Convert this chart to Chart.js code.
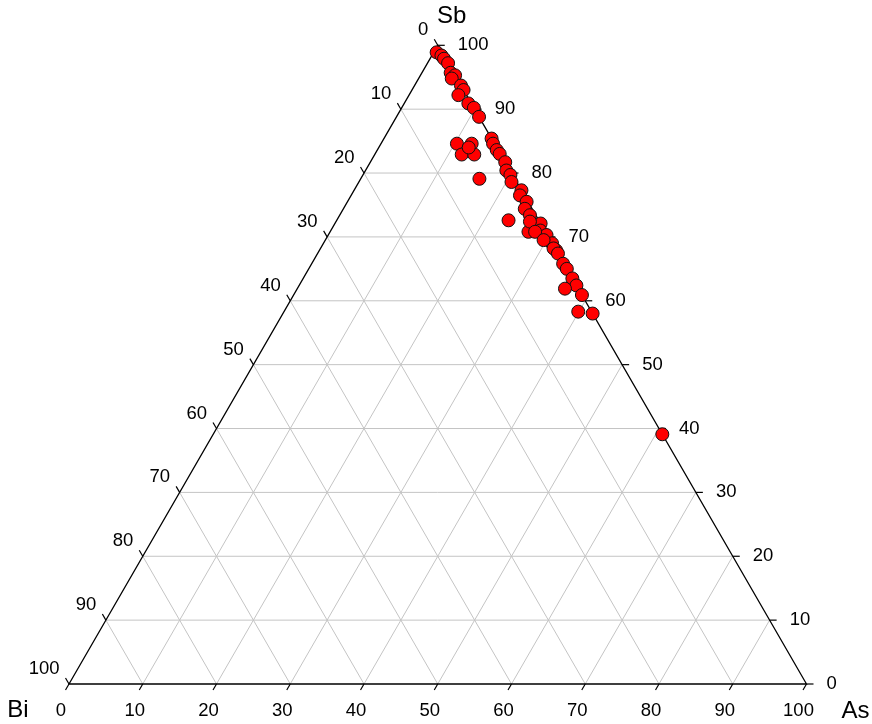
<!DOCTYPE html>
<html>
<head>
<meta charset="utf-8">
<script src="https://cdn.jsdelivr.net/npm/chart.js@4/dist/chart.umd.min.js"></script>
<style>
  html, body { margin: 0; padding: 0; background: #fff; }
  #wrap { width: 872px; height: 724px; }
</style>
</head>
<body>
<div id="wrap"><canvas id="ternary" width="872" height="724"></canvas></div>
<script>
// Données (pourcentages) : Sb, As, Bi pour chaque échantillon
const sbValues = [98.9, 98.4, 97.9, 97.2, 95.7, 95.3, 94.8, 93.7, 93.0, 92.2, 90.9, 90.2, 88.8,
    84.6, 84.6, 82.9, 82.9, 79.1, 84.0,
    85.4, 84.6, 83.6, 83.0, 81.7, 80.4, 79.7, 78.6, 77.3, 76.5, 75.5, 74.4, 73.4, 72.6,
    72.1, 71.0, 70.8, 70.3, 69.0, 67.9, 72.4, 70.8, 69.5, 68.2, 67.4, 65.8, 65.0, 63.5,
    62.4, 61.9, 60.9, 58.3, 58.0, 39.1];
const asValues = [0.4, 1.3, 1.9, 2.8, 3.9, 4.7, 4.5, 6.3, 7.0, 6.7, 8.7, 9.8, 11.2,
    10.3, 12.3, 11.8, 13.5, 16.1, 12.2,
    14.6, 15.2, 16.2, 16.9, 18.3, 19.1, 20.0, 20.7, 22.7, 22.9, 24.3, 24.6, 25.8, 23.3,
    27.9, 28.4, 26.9, 29.6, 31.0, 32.1, 26.3, 27.8, 29.6, 31.6, 32.6, 34.1, 35.0, 36.5,
    37.6, 36.3, 39.1, 39.9, 42.0, 60.9];
const biValues = [0.7, 0.3, 0.2, 0.0, 0.4, 0.0, 0.7, 0.0, 0.0, 1.1, 0.4, 0.0, 0.0,
    5.1, 3.1, 5.3, 3.6, 4.8, 3.8,
    0.0, 0.2, 0.2, 0.1, 0.0, 0.5, 0.3, 0.7, 0.0, 0.6, 0.2, 1.0, 0.8, 4.1,
    0.0, 0.6, 2.3, 0.1, 0.0, 0.0, 1.3, 1.4, 0.9, 0.2, 0.0, 0.1, 0.0, 0.0,
    0.0, 1.8, 0.0, 1.8, 0.0, 0.0];

const tickValues = [0, 10, 20, 30, 40, 50, 60, 70, 80, 90, 100];
const axisTitles = { top: 'Sb', left: 'Bi', right: 'As' };

const H = Math.sqrt(3) / 2;
const FONT = '"Liberation Sans", Arial, sans-serif';

// (As, Sb) -> coordonnées cartésiennes du triangle (côté = 100)
function toXY(as, sb, bi) {
    const t = as + sb + bi;
    const a = as / t * 100, s = sb / t * 100;
    return { x: a + s / 2, y: s * H };
}

const points = sbValues.map((sb, i) => toXY(asValues[i], sb, biValues[i]));

// Grille, bords, graduations et libellés du diagramme ternaire
const ternaryPlugin = {
    id: 'ternary',
    beforeDatasetsDraw(chart) {
        const ctx = chart.ctx;
        const xs = chart.scales.x, ys = chart.scales.y;
        const px = (as, sb) => {
            const p = toXY(as, sb, 100 - as - sb);
            return [xs.getPixelForValue(p.x), ys.getPixelForValue(p.y)];
        };
        const line = (a, b) => {
            ctx.beginPath();
            ctx.moveTo(a[0], a[1]);
            ctx.lineTo(b[0], b[1]);
            ctx.stroke();
        };

        ctx.save();
        // grille
        ctx.strokeStyle = '#c4c4c4';
        ctx.lineWidth = 1;
        for (let k = 10; k < 100; k += 10) {
            line(px(0, k), px(100 - k, k));       // Sb constant
            line(px(k, 0), px(k, 100 - k));       // As constant
            line(px(100 - k, 0), px(0, 100 - k)); // Bi constant
        }

        // bords du triangle
        ctx.strokeStyle = '#000';
        ctx.lineWidth = 1.3;
        const bl = px(0, 0), br = px(100, 0), tp = px(0, 100);
        ctx.beginPath();
        ctx.moveTo(bl[0], bl[1]);
        ctx.lineTo(br[0], br[1]);
        ctx.lineTo(tp[0], tp[1]);
        ctx.closePath();
        ctx.stroke();

        // graduations + libellés
        const len = 7;
        ctx.lineWidth = 1.2;
        ctx.fillStyle = '#000';
        ctx.font = '18.5px ' + FONT;
        tickValues.forEach(k => {
            // bas : As
            let p = px(k, 0);
            line(p, [p[0] - 0.5 * len, p[1] + H * len]);
            ctx.textAlign = 'center';
            ctx.textBaseline = 'middle';
            ctx.fillText(String(k), p[0] - 8, p[1] + 27);

            // droite : Sb
            p = px(100 - k, k);
            line(p, [p[0] + len, p[1]]);
            ctx.textAlign = 'left';
            ctx.fillText(String(k), p[0] + 20, p[1]);

            // gauche : Bi
            p = px(0, 100 - k);
            line(p, [p[0] - 0.5 * len, p[1] - H * len]);
            ctx.textAlign = 'right';
            ctx.fillText(String(k), p[0] - 9.5, p[1] - 15);
        });

        // titres des sommets
        ctx.font = '24px ' + FONT;
        ctx.textAlign = 'center';
        ctx.textBaseline = 'middle';
        ctx.fillText(axisTitles.top, tp[0] + 14, tp[1] - 29);
        ctx.fillText(axisTitles.left, bl[0] - 51, bl[1] + 26);
        ctx.fillText(axisTitles.right, br[0] + 49, br[1] + 27);
        ctx.restore();
    }
};

// Échelle : 7.375 px par unité, sommet Bi en (69, 684)
const PX = 7.375;
const chartConfig = {
    type: 'scatter',
    data: {
        datasets: [{
            data: points,
            backgroundColor: '#ff0000',
            borderColor: '#111',
            borderWidth: 1,
            pointRadius: 6.5,
            pointHoverRadius: 6.5
        }]
    },
    options: {
        responsive: false,
        animation: false,
        layout: { padding: 0, autoPadding: false },
        scales: {
            x: { type: 'linear', display: false, min: -69 / PX, max: (872 - 69) / PX },
            y: { type: 'linear', display: false, min: -(724 - 684) / PX, max: 684 / PX }
        },
        plugins: {
            legend: { display: false },
            tooltip: { enabled: false }
        }
    },
    plugins: [ternaryPlugin]
};

new Chart(document.getElementById('ternary'), chartConfig);
</script>
</body>
</html>
